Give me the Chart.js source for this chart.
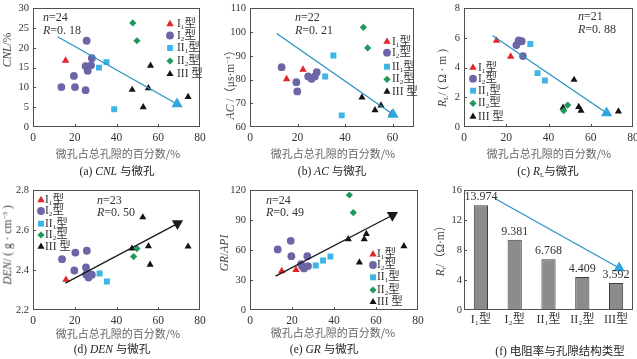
<!DOCTYPE html>
<html><head><meta charset="utf-8">
<script src="https://cdn.jsdelivr.net/npm/chart.js@4.4.1/dist/chart.umd.min.js"></script>
<style>
html,body{margin:0;padding:0;background:#fff;}
#wrap{position:relative;width:637px;height:359px;overflow:hidden;background:#fff;}
canvas{position:absolute;}
.t{position:absolute;white-space:nowrap;color:#333;font-family:"Liberation Serif","Noto Sans CJK SC",serif;font-size:12px;line-height:1;}
.cn{font-family:"Noto Sans CJK SC",sans-serif;color:#666;font-size:11px;}
.cap{font-family:"Liberation Serif","Noto Sans CJK SC",serif;color:#222;font-size:11.5px;}
.lg{font-size:11.5px;}
.yt{transform:translate(-50%,-50%) rotate(-90deg);color:#444;font-size:11.5px;}
.c{transform:translate(-50%,-50%);}
.l{transform:translateY(-50%);}
sub{font-size:62%;vertical-align:-0.3em;line-height:0;}
sup{font-size:62%;vertical-align:0.6em;line-height:0;}
</style></head><body><div id="wrap"></div>
<script>
// ---------------- data ----------------
const xTickVals = [0, 20, 40, 60, 80];
const xTickValsB = [0, 20, 40, 60];
const cnlTicks = [0, 5, 10, 15, 20, 25, 30];
const acTicks = [60, 70, 80, 90, 100, 110];
const rlTicks = [0, 2, 4, 6, 8];
const denTicks = [2.2, 2.4, 2.6, 2.8];
const grTicks = [0, 30, 60, 90, 120];
const rtTicks = [0, 2, 4, 6, 8, 10, 12, 14, 16];

// (a) CNL
const cnlI1 = [[15.6, 16.8]];
const cnlI2 = [[13.6, 10.1], [19.6, 12.9], [20.1, 10.1], [25.7, 21.8], [25.2, 15.4], [26.2, 14.2], [27.8, 15.6], [28.2, 17.4], [25.2, 9.3]];
const cnlII1 = [[35.2, 16.4], [31.6, 15.0], [38.9, 4.5]];
const cnlII2 = [[47.8, 26.3], [49.8, 21.8]];
const cnlIII = [[47.5, 9.4], [55.3, 9.8], [56.3, 15.5], [52.8, 5.0], [74.3, 7.6]];
const cnlTrend = [[11.8, 22.8], [69.0, 5.8]];

// (b) AC
const acI1 = [[15.4, 80.2], [22.3, 84.2]];
const acI2 = [[13.3, 85.2], [19.5, 78.9], [19.9, 75.0], [24.5, 81.3], [25.9, 80.3], [27.3, 81.3], [28.1, 83.1]];
const acII1 = [[35.1, 90.1], [31.6, 81.3], [38.6, 64.9]];
const acII2 = [[47.7, 102.0], [49.5, 93.3]];
const acIII = [[47.1, 72.5], [52.6, 67.1], [55.1, 69.1], [59.6, 65.5]];
const acTrend = [[11.2, 99.4], [60.2, 65.3]];

// (c) RL
const rlI1 = [[15.4, 5.83], [22.1, 4.75]];
const rlI2 = [[24.8, 5.52], [25.9, 5.83], [27.3, 5.78], [27.9, 4.78]];
const rlII1 = [[31.4, 5.6], [34.8, 3.63], [38.3, 3.14]];
const rlII2 = [[47.2, 1.1], [49.1, 1.48]];
const rlIII = [[46.9, 1.3], [52.1, 3.18], [54.3, 1.35], [55.4, 1.1], [73.1, 1.05]];
const rlTrend = [[13.5, 6.17], [67.5, 0.94]];

// (d) DEN
const denI1 = [[15.8, 2.352]];
const denI2 = [[13.9, 2.455], [20.3, 2.488], [25.8, 2.497], [19.8, 2.398], [25.4, 2.413], [25.5, 2.378], [26.6, 2.363], [28.2, 2.377], [27.2, 2.38]];
const denII1 = [[31.9, 2.383], [35.4, 2.343]];
const denII2 = [[48.2, 2.468], [49.8, 2.508]];
const denIII = [[47.4, 2.508], [52.6, 2.665], [55.3, 2.52], [56.1, 2.427], [74.3, 2.518]];
const denTrend = [[15.5, 2.335], [69.2, 2.633]];

// (e) GR
const grI1 = [[15.1, 39.0], [21.9, 40.3]];
const grI2 = [[13.2, 60.7], [19.4, 69.3], [19.7, 54.0], [24.3, 46.0], [24.8, 44.0], [25.7, 41.7], [27.3, 54.0], [27.6, 44.0]];
const grII1 = [[31.3, 44.7], [34.8, 49.7], [38.3, 53.7]];
const grII2 = [[47.3, 115.3], [49.2, 97.7]];
const grIII = [[46.8, 71.0], [52.1, 47.7], [54.4, 71.0], [55.4, 76.3], [73.3, 64.0]];
const grTrend = [[12.2, 34.0], [67.8, 95.0]];

// (f) Rt by pore-structure type
const typeLabels = ['I₁型', 'I₂型', 'II₁型', 'II₂型', 'III型'];
const rtValues = [13.974, 9.381, 6.768, 4.409, 3.592];
const rtTrend = [[0.40, 14.9], [4.09, 5.6]];

const legendLabels = ['I<sub>1</sub>型', 'I<sub>2</sub>型', 'II<sub>1</sub>型', 'II<sub>2</sub>型', 'III 型'];

// ---------------- styles ----------------
const SERIF = '"Liberation Serif","DejaVu Serif",serif';
const styles = [
  {pointStyle: 'triangle', color: '#e3242b', r: 4.3},
  {pointStyle: 'circle', color: '#6b66a6', r: 3.9},
  {pointStyle: 'rect', color: '#3db5e6', r: 4.2},
  {pointStyle: 'rectRot', color: '#1d9a5b', r: 3.6},
  {pointStyle: 'triangle', color: '#141414', r: 4.1}
];
const wrap = document.getElementById('wrap');
const toXY = a => a.map(p => ({x: p[0], y: p[1]}));

const framePlugin = {
  id: 'frame',
  afterDraw(chart) {
    const o = chart.options.plugins.frame || {};
    const ctx = chart.ctx;
    const X = chart.scales.x, Y = chart.scales.y;
    const l = Math.round(X.left), r = Math.round(X.right);
    const t = Math.round(Y.top), b = Math.round(Y.bottom);
    ctx.save();
    ctx.fillStyle = '#505050';
    ctx.fillRect(l, t, r - l, 1);
    ctx.fillRect(l, b - 1, r - l, 1);
    ctx.fillRect(l, t, 1, b - t);
    ctx.fillRect(r - 1, t, 1, b - t);
    Y.ticks.forEach(tk => {
      const p = Math.round(Y.getPixelForValue(tk.value));
      ctx.fillRect(l, Math.min(Math.max(p, t), b - 1), 3, 1);
    });
    if (!o.noXTicks) {
      X.ticks.forEach(tk => {
        const p = Math.round(X.getPixelForValue(tk.value));
        ctx.fillRect(Math.min(Math.max(p, l), r - 1), b - 3, 1, 3);
      });
    }
    if (o.legend) {
      const {x, y, off} = o.legend;
      styles.forEach((s, i) => {
        ctx.fillStyle = s.color;
        Chart.helpers.drawPoint(ctx, {pointStyle: s.pointStyle, radius: s.r, rotation: 0, borderWidth: 0}, x - off[0], y[i] - off[1]);
      });
    }
    if (o.barLabels) {
      const meta = chart.getDatasetMeta(1);
      ctx.fillStyle = '#333';
      ctx.font = '12px ' + SERIF;
      ctx.textAlign = 'center';
      ctx.textBaseline = 'bottom';
      meta.data.forEach((bar, i) => ctx.fillText(rtValues[i].toFixed(3), bar.x, bar.y - 2));
    }
    ctx.restore();
  }
};

function makeCanvas(L, R, T, B) {
  const W = 34, H = 22, padT = 10, padR = 12;
  const c = document.createElement('canvas');
  const left = L - W, top = T - padT;
  const w = W + (R - L) + padR, h = padT + (B - T) + H;
  c.width = w; c.height = h;
  c.style.left = left + 'px'; c.style.top = top + 'px';
  c.style.width = w + 'px'; c.style.height = h + 'px';
  wrap.appendChild(c);
  return {c, left, top, W, H, padT, padR};
}

function axis(min, max, vals, fit, fmt, size, pad) {
  return {
    type: 'linear', min, max,
    afterBuildTicks: s => { s.ticks = vals.map(v => ({value: v})); },
    ticks: {font: {family: SERIF, size: size || 12}, color: '#333', padding: pad == null ? 4 : pad, callback: fmt || (v => String(v))},
    grid: {display: false, drawTicks: false},
    border: {display: false},
    afterFit: fit
  };
}

function scatter(o) {
  const cv = makeCanvas(o.L, o.R, o.T, o.B);
  const ds = [{
    data: toXY(o.trend), showLine: true, borderColor: o.lineColor, borderWidth: 1.3,
    pointRadius: [0, 6.5], pointStyle: 'triangle', pointRotation: [0, o.headRot],
    pointBackgroundColor: o.headColor, pointBorderWidth: 0
  }];
  o.series.forEach((s, i) => ds.push({
    data: toXY(s), pointStyle: styles[i].pointStyle, pointRadius: styles[i].r,
    pointBackgroundColor: styles[i].color, pointBorderWidth: 0
  }));
  new Chart(cv.c, {
    type: 'scatter',
    data: {datasets: ds},
    options: {
      responsive: false, animation: false, events: [],
      layout: {padding: {top: cv.padT, right: cv.padR, left: 0, bottom: 0}},
      plugins: {legend: {display: false}, tooltip: {enabled: false},
        frame: {legend: {x: o.legX, y: o.legY, off: [cv.left, cv.top]}}},
      scales: {
        x: axis(o.xMin, o.xMax, o.xTicks, s => { s.height = cv.H; }, null, 11.5, 4),
        y: axis(o.yMin, o.yMax, o.yTicks, s => { s.width = cv.W; }, o.yFmt, 10.5, 4)
      }
    },
    plugins: [framePlugin]
  });
}

const CYAN = '#2b92c6', HEAD = '#2fa6de';
scatter({L: 33, R: 200, T: 8, B: 127, xMin: 0, xMax: 80, xTicks: xTickVals, yMin: 0, yMax: 30, yTicks: cnlTicks,
  series: [cnlI1, cnlI2, cnlII1, cnlII2, cnlIII], trend: cnlTrend, lineColor: CYAN, headColor: HEAD, headRot: 0,
  legX: 170, legY: [24, 35.5, 48, 61, 74]});
scatter({L: 250, R: 414, T: 8, B: 127, xMin: 0, xMax: 69, xTicks: xTickValsB, yMin: 60, yMax: 110, yTicks: acTicks,
  series: [acI1, acI2, acII1, acII2, acIII], trend: acTrend, lineColor: CYAN, headColor: HEAD, headRot: 0,
  legX: 387, legY: [41.7, 52.7, 66.7, 79.3, 91.7]});
scatter({L: 464, R: 633, T: 8, B: 127, xMin: 0, xMax: 80, xTicks: xTickVals, yMin: 0, yMax: 8, yTicks: rlTicks,
  series: [rlI1, rlI2, rlII1, rlII2, rlIII], trend: rlTrend, lineColor: CYAN, headColor: HEAD, headRot: 0,
  legX: 473, legY: [67.7, 78.7, 90.7, 103.3, 116.7]});
scatter({L: 33, R: 200, T: 190, B: 310, xMin: 0, xMax: 80, xTicks: xTickVals, yMin: 2.2, yMax: 2.8, yTicks: denTicks,
  yFmt: v => v.toFixed(1),
  series: [denI1, denI2, denII1, denII2, denIII], trend: denTrend, lineColor: '#1a1a1a', headColor: '#1a1a1a', headRot: 180,
  legX: 41, legY: [200, 211, 223.7, 235, 246.7]});
scatter({L: 250, R: 418, T: 190, B: 310, xMin: 0, xMax: 80, xTicks: xTickVals, yMin: 0, yMax: 120, yTicks: grTicks,
  series: [grI1, grI2, grII1, grII2, grIII], trend: grTrend, lineColor: '#1a1a1a', headColor: '#1a1a1a', headRot: 180,
  legX: 373, legY: [254.3, 265, 277.3, 290, 302]});

// (f) bar chart
(function () {
  const cv = makeCanvas(464, 633, 190, 310);
  new Chart(cv.c, {
    type: 'bar',
    data: {
      labels: typeLabels,
      datasets: [
        {type: 'line', parsing: false, data: toXY(rtTrend), borderColor: CYAN, borderWidth: 1.3,
          pointRadius: [0, 6.5], pointStyle: 'triangle', pointBackgroundColor: HEAD, pointBorderWidth: 0},
        {data: rtValues, backgroundColor: '#8c8c8c', borderColor: '#3d3d3d', borderWidth: 1,
          barPercentage: 0.42, categoryPercentage: 1}
      ]
    },
    options: {
      responsive: false, animation: false, events: [],
      layout: {padding: {top: cv.padT, right: cv.padR, left: 0, bottom: 0}},
      plugins: {legend: {display: false}, tooltip: {enabled: false}, frame: {noXTicks: true, barLabels: true}},
      scales: {
        x: {type: 'category', offset: true, grid: {display: false, drawTicks: false, offset: true}, border: {display: false},
          ticks: {font: {family: '"Liberation Serif","DejaVu Serif","Noto Sans CJK SC",serif', size: 12}, color: '#333', padding: 3},
          afterFit: s => { s.height = cv.H; }},
        y: axis(0, 16, rtTicks, s => { s.width = cv.W; }, null, 10.5, 2)
      }
    },
    plugins: [framePlugin]
  });
})();

// ---------------- text overlays ----------------
function txt(html, x, y, cls) {
  const d = document.createElement('div');
  d.className = 't ' + (cls || '');
  d.innerHTML = html;
  d.style.left = x + 'px'; d.style.top = y + 'px';
  wrap.appendChild(d);
}
function legendText(x, ys) { ys.forEach((y, i) => txt(legendLabels[i], x, y, 'l lg')); }

const xTitle = '微孔占总孔隙的百分数/%';
// (a)
txt('<i>n</i>=24', 43, 17, 'l'); txt('<i>R</i>=0. 18', 43, 29.5, 'l');
legendText(177, [24, 35.5, 48, 61, 74]);
txt('<i>CNL</i>/%', 8, 50, 'yt');
txt(xTitle, 118, 153, 'cn c');
txt('(a) <i>CNL</i> 与微孔', 117, 172, 'cap c');
// (b)
txt('<i>n</i>=22', 295, 17, 'l'); txt('<i>R</i>=0. 21', 295, 29.5, 'l');
legendText(392, [41.7, 52.7, 66.7, 79.3, 91.7]);
txt('<i>AC</i> /（μs·m<sup>−1</sup>）', 231, 82, 'yt');
txt(xTitle, 333, 153, 'cn c');
txt('(b) <i>AC</i> 与微孔', 332, 172, 'cap c');
// (c)
txt('<i>n</i>=21', 578, 16, 'l'); txt('<i>R</i>=0. 88', 578, 28.5, 'l');
legendText(478, [67.7, 78.7, 90.7, 103.3, 116.7]);
txt('<i>R</i><sub>L</sub>/ ( Ω · m )', 443, 78, 'yt');
txt(xTitle, 549, 153, 'cn c');
txt('(c) <i>R</i><sub>L</sub>与微孔', 548, 172, 'cap c');
// (d)
txt('<i>n</i>=23', 97, 200, 'l'); txt('<i>R</i>=0. 50', 97, 211.5, 'l');
legendText(45, [200, 211, 223.7, 235, 246.7]);
txt('<i>DEN</i>/ ( g · cm<sup>−3</sup> )', 8, 245, 'yt');
txt(xTitle, 118, 333, 'cn c');
txt('(d) <i>DEN</i> 与微孔', 112, 350, 'cap c');
// (e)
txt('<i>n</i>=24', 266, 200, 'l'); txt('<i>R</i>=0. 49', 266, 211.5, 'l');
legendText(377, [254.3, 265, 277.3, 290, 302]);
txt('<i>GR</i>/<i>API</i>', 225, 253, 'yt');
txt(xTitle, 333, 332, 'cn c');
txt('(e) <i>GR</i> 与微孔', 324, 350, 'cap c');
// (f)
txt('<i>R</i><sub>t</sub>/（Ω·m）', 441, 248, 'yt');
txt('(f) 电阻率与孔隙结构类型', 560, 352, 'cap c');
</script></body></html>
